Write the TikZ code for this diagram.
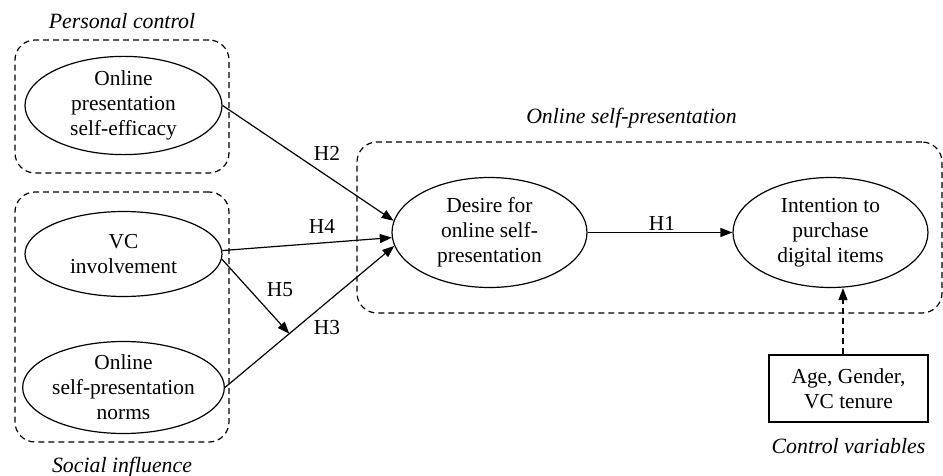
\documentclass[tikz,border=0pt]{standalone}
\usepackage{fontspec}
\setmainfont{Liberation Serif}
\usepackage{tikz}
\usetikzlibrary{shapes.geometric, positioning, arrows.meta}

\begin{document}
\begin{tikzpicture}[
    x=0.5pt, y=-0.5pt,
    font=\fontsize{10.7}{12.5}\selectfont,
    construct/.style={ellipse, draw=black, semithick, minimum width=98.5pt, minimum height=42.5pt, inner sep=0pt, align=center},
    big_construct/.style={construct, minimum width=97.5pt, minimum height=55pt},
    group_box/.style={draw=black, semithick, dash pattern=on 3pt off 2pt, rounded corners=10pt},
    group_label/.style={font=\fontsize{10.9}{12.5}\selectfont\itshape},
    path_arrow/.style={draw=black, semithick, -{Triangle[length=6pt, width=4.5pt]}},
    control_arrow/.style={path_arrow, dash pattern=on 3pt off 2pt},
    hyp/.style={inner sep=1pt}
]

\useasboundingbox (0,0) rectangle (943,476);

% Dashed group boxes
\node[group_box, minimum width=107pt, minimum height=66.5pt] (personal) at (122,106.5) {};
\node[group_box, minimum width=107pt, minimum height=125pt] (social) at (122,317) {};
\node[group_box, minimum width=292.5pt, minimum height=85.5pt] (selfpres) at (649.5,227.5) {};

% Group labels
\node[group_label, above=2pt of personal] (personal_lbl) {Personal control};
\node[group_label, below=3.5pt of social] (social_lbl) {Social influence};
\node[group_label, above=3pt of selfpres, xshift=-9pt] (selfpres_lbl) {Online self-presentation};

% Constructs
\node[construct] (efficacy) at (123.5,105.5) {Online\\presentation\\self-efficacy};
\node[construct] (involve) at (123.5,254) {VC\\involvement};
\node[construct] (norms) at (123.5,387.5) {Online\\self-presentation\\norms};
\node[big_construct] (desire) at (489.5,232.5) {Desire for\\online self-\\presentation};
\node[big_construct] (intention) at (830.5,232.5) {Intention to\\purchase\\digital items};

% Control variables
\node[draw=black, semithick, minimum width=79.5pt, minimum height=33.5pt, align=center] (controls) at (848.5,388.5) {Age, Gender,\\VC tenure};
\node[group_label, below=4.5pt of controls] (controls_lbl) {Control variables};

% Hypothesised paths
\draw[path_arrow] (efficacy.east) -- (desire.173);
\draw[path_arrow] (involve.2) -- (desire.183);
\draw[path_arrow] (norms.east) -- coordinate[pos=0.38] (h5tip) (desire.188);
\draw[path_arrow] (involve.-3) -- (h5tip);
\draw[path_arrow] (desire.east) -- (intention.west);
\draw[control_arrow] ([xshift=-2.75pt]controls.north) -- ([xshift=-2.75pt]controls.north |- intention.south);

% Path labels
\node[hyp] (h2) at (327,153) {H2};
\node[hyp] (h4) at (322,226) {H4};
\node[hyp] (h5) at (280,290) {H5};
\node[hyp] (h3) at (327,328) {H3};
\node[hyp] (h1) at (662,223) {H1};

\end{tikzpicture}
\end{document}
